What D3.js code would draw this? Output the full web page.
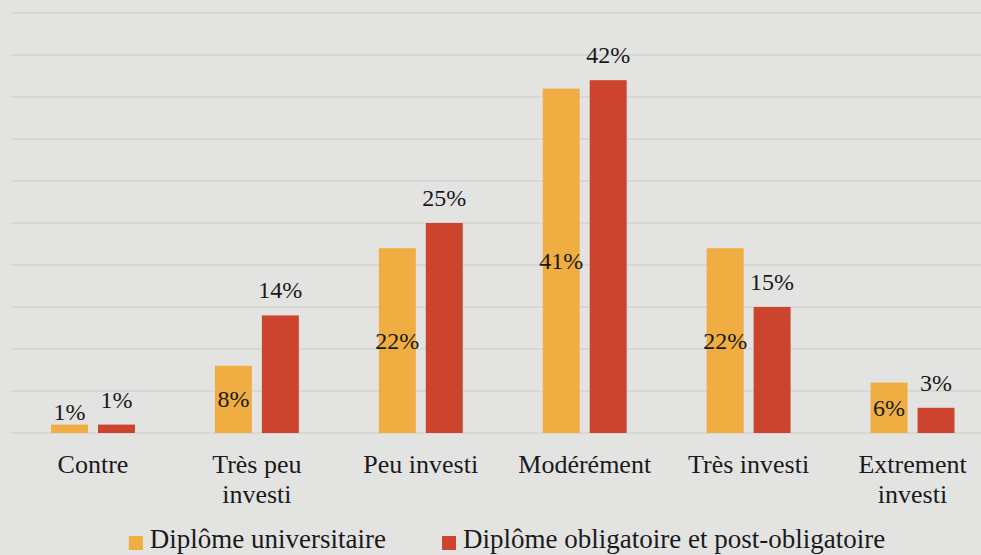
<!DOCTYPE html>
<html>
<head>
<meta charset="utf-8">
<script src="https://cdn.jsdelivr.net/npm/d3@7"></script>
<style>
  body { margin: 0; background: #e3e3e2; }
  svg { display: block; }
  text { font-family: "Liberation Serif", "DejaVu Serif", serif; fill: #1a1a1a; }
</style>
</head>
<body>
<div class="chart"></div>
<script>
// data
var categories = ["Contre", "Très peu investi", "Peu investi", "Modérément", "Très investi", "Extrement investi"];
var categoryLines = [["Contre"], ["Très peu", "investi"], ["Peu investi"], ["Modérément"], ["Très investi"], ["Extrement", "investi"]];
var seriesNames = ["Diplôme universitaire", "Diplôme obligatoire et post-obligatoire"];
var universitaire = [1, 8, 22, 41, 22, 6];
var obligatoire = [1, 14, 25, 42, 15, 3];
var seriesColors = ["#f0ad42", "#cc442e"];
var yTicks = [0, 5, 10, 15, 20, 25, 30, 35, 40, 45, 50];

var W = 981, H = 555;

var svg = d3.select(".chart").append("svg")
    .attr("width", W)
    .attr("height", H);

svg.append("rect").attr("width", W).attr("height", H).attr("fill", "#e3e3e2");

var x0 = d3.scaleBand()
    .domain(categories)
    .range([11, 994.5])
    .paddingInner(0.488)
    .paddingOuter(0.244);

var x1 = d3.scaleBand()
    .domain([0, 1])
    .range([0, x0.bandwidth()])
    .paddingInner(0.213);

var y = d3.scaleLinear().domain([0, 50]).range([433, 13]);

// gridlines
svg.append("g").selectAll("line")
  .data(yTicks).enter()
  .append("line")
    .attr("x1", 11)
    .attr("x2", W)
    .attr("y1", function(d) { return y(d); })
    .attr("y2", function(d) { return y(d); })
    .attr("stroke", "#d7d7d6")
    .attr("stroke-width", 2);

var rows = categories.map(function(c, i) {
  return {cat: c, values: [universitaire[i], obligatoire[i]]};
});

var group = svg.append("g").selectAll("g")
  .data(rows).enter()
  .append("g")
    .attr("transform", function(d) { return "translate(" + x0(d.cat) + ",0)"; });

group.selectAll("rect")
  .data(function(d) { return d.values.map(function(v, k) { return {k: k, v: v}; }); })
  .enter().append("rect")
    .attr("x", function(d) { return x1(d.k); })
    .attr("y", function(d) { return y(d.v); })
    .attr("width", x1.bandwidth())
    .attr("height", function(d) { return y(0) - y(d.v); })
    .attr("fill", function(d) { return seriesColors[d.k]; });

// labels: first series centred in bar, second above bar
group.selectAll("text.val")
  .data(function(d) { return d.values.map(function(v, k) { return {k: k, v: v}; }); })
  .enter().append("text")
    .attr("class", "val")
    .attr("text-anchor", "middle")
    .attr("font-size", 24)
    .attr("x", function(d) { return x1(d.k) + x1.bandwidth() / 2; })
    .attr("y", function(d) {
      if (d.k == 0) {
        var mid = (y(d.v) + y(0)) / 2;
        return Math.min(mid, y(0) - 21) + 8;
      }
      return y(d.v) - 17;
    })
    .text(function(d) { return d.v + "%"; });

// category labels
var xl = svg.append("g").selectAll("text")
  .data(categories).enter()
  .append("text")
    .attr("text-anchor", "middle")
    .attr("font-size", 26)
    .attr("x", function(d) { return x0(d) + x0.bandwidth() / 2; })
    .attr("y", 473);
xl.selectAll("tspan")
  .data(function(d, i) { return categoryLines[i]; })
  .enter().append("tspan")
    .attr("x", function() { return d3.select(this.parentNode).attr("x"); })
    .attr("dy", function(d, j) { return j == 0 ? 0 : 30; })
    .text(function(d) { return d; });

// legend
var legend = svg.append("g");
var items = legend.selectAll("g")
  .data(seriesNames).enter()
  .append("g");
items.append("rect")
  .attr("width", 14)
  .attr("height", 14)
  .attr("y", 536)
  .attr("fill", function(d, i) { return seriesColors[i]; });
items.append("text")
  .attr("x", 21)
  .attr("y", 548)
  .attr("font-size", 27)
  .text(function(d) { return d; });

var offset = 0;
items.each(function() {
  var g = d3.select(this);
  g.attr("transform", "translate(" + offset + ",0)");
  offset += 21 + g.select("text").node().getComputedTextLength() + 56;
});
var total = offset - 56;
legend.attr("transform", "translate(" + (507 - total / 2) + ",0)");
</script>
</body>
</html>
